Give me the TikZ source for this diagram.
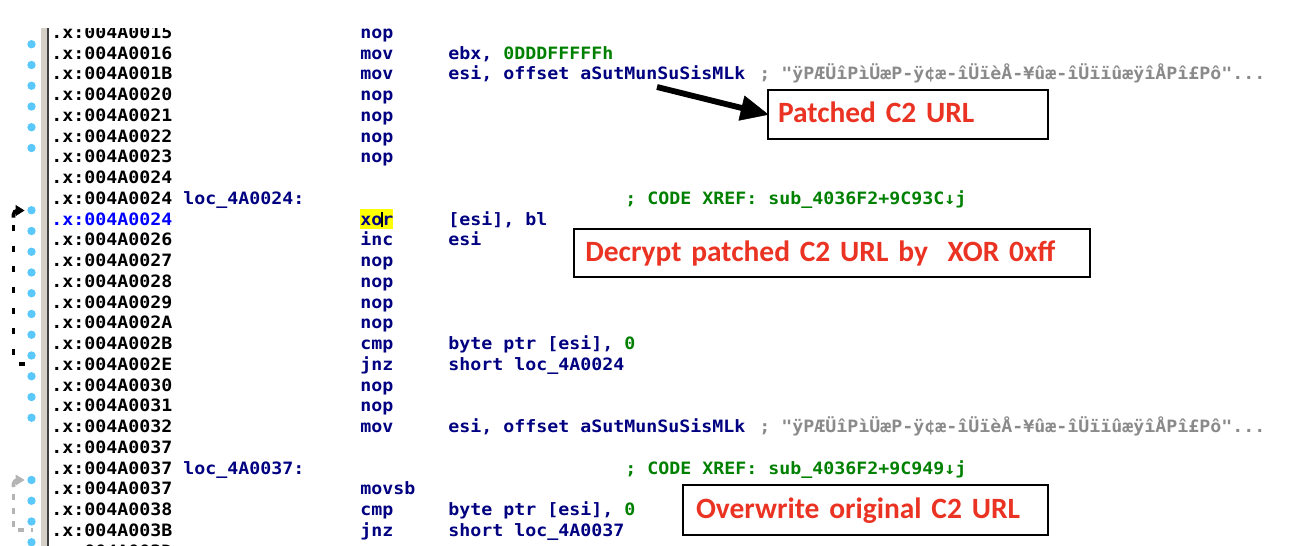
\documentclass[tikz,border=0pt]{standalone}
\usepackage{fontspec}
\usepackage{tikz}
\newfontfamily\idafont[FakeStretch=1.075]{DejaVu Sans Mono}
\newfontfamily\notefont{Carlito}

\begin{document}
\begin{tikzpicture}[x=0.75pt,y=0.75pt,yscale=-1,xscale=1,
  code/.style={anchor=base west, inner sep=0pt, font=\idafont\bfseries\fontsize{12.75}{13}\selectfont},
  addr/.style={code, color={rgb, 255:red, 0; green, 0; blue, 0 }},
  curaddr/.style={code, color={rgb, 255:red, 0; green, 0; blue, 255 }},
  mnem/.style={code, color={rgb, 255:red, 0; green, 0; blue, 128 }},
  xref/.style={code, color={rgb, 255:red, 0; green, 128; blue, 0 }},
  strcmt/.style={code, color={rgb, 255:red, 138; green, 138; blue, 138 }},
  insdot/.style={fill={rgb, 255:red, 90; green, 200; blue, 250 }},
  note/.style={draw={rgb, 255:red, 0; green, 0; blue, 0 }, line width=1.65pt, outer sep=0pt, anchor=north west, align=left, text height=15pt, text depth=3pt, font=\notefont\bfseries\fontsize{22.1}{24}\selectfont, text={rgb, 255:red, 234; green, 51; blue, 35 }},
  loopline/.style={line width=2.7pt}
]
\useasboundingbox (0,0) rectangle (1296,546);

\begin{scope}
\clip (0,28) rectangle (1296,546);
%Shape: Rectangle [id:margin]
\fill [color={rgb, 255:red, 212; green, 208; blue, 200 }] (41,28) rectangle (46.7,546);
\fill [color={rgb, 255:red, 64; green, 64; blue, 64 }] (46.7,28) rectangle (49.3,546);

%Shape: Circles [id:dots]
\fill [insdot] (31.5,23.5) circle (4.2);
\fill [insdot] (31.5,44.25) circle (4.2);
\fill [insdot] (31.5,65) circle (4.2);
\fill [insdot] (31.5,85.75) circle (4.2);
\fill [insdot] (31.5,106.5) circle (4.2);
\fill [insdot] (31.5,127.25) circle (4.2);
\fill [insdot] (31.5,148) circle (4.2);
\fill [insdot] (31.5,210.25) circle (4.2);
\fill [insdot] (31.5,231) circle (4.2);
\fill [insdot] (31.5,251.75) circle (4.2);
\fill [insdot] (31.5,272.5) circle (4.2);
\fill [insdot] (31.5,293.25) circle (4.2);
\fill [insdot] (31.5,314) circle (4.2);
\fill [insdot] (31.5,334.75) circle (4.2);
\fill [insdot] (31.5,355.5) circle (4.2);
\fill [insdot] (31.5,376.25) circle (4.2);
\fill [insdot] (31.5,397) circle (4.2);
\fill [insdot] (31.5,417.75) circle (4.2);
\fill [insdot] (31.5,480) circle (4.2);
\fill [insdot] (31.5,500.75) circle (4.2);
\fill [insdot] (31.5,521.5) circle (4.2);
\fill [insdot] (31.5,542.25) circle (4.2);

%Shape: Rectangle [id:xorhighlight]
\fill [color={rgb, 255:red, 255; green, 255; blue, 0 }] (360,208.5) rectangle (393,229);

% Text Node
\draw (51,38.3) node (a0) [addr] {.x:004A0015};
\draw (360,38.3) node (m0) [mnem] {nop};
% Text Node
\draw (51,59.05) node (a1) [addr] {.x:004A0016};
\draw (360,59.05) node (m1) [mnem] {mov};
\draw (448,59.05) node (o1) [mnem] {ebx, \textcolor[RGB]{0,128,0}{0DDDFFFFFh}};
% Text Node
\draw (51,79.8) node (a2) [addr] {.x:004A001B};
\draw (360,79.8) node (m2) [mnem] {mov};
\draw (448,79.8) node (o2) [mnem] {esi, offset aSutMunSuSisMLk};
\draw (759,79.8) node (c2) [strcmt] {; "ÿPÆÜîPìÜæP-ÿ¢æ-îÜïèÅ-¥ûæ-îÜïïûæÿîÅPî£Pô"...};
% Text Node
\draw (51,100.55) node (a3) [addr] {.x:004A0020};
\draw (360,100.55) node (m3) [mnem] {nop};
% Text Node
\draw (51,121.3) node (a4) [addr] {.x:004A0021};
\draw (360,121.3) node (m4) [mnem] {nop};
% Text Node
\draw (51,142.05) node (a5) [addr] {.x:004A0022};
\draw (360,142.05) node (m5) [mnem] {nop};
% Text Node
\draw (51,162.8) node (a6) [addr] {.x:004A0023};
\draw (360,162.8) node (m6) [mnem] {nop};
% Text Node
\draw (51,183.55) node (a7) [addr] {.x:004A0024};
% Text Node
\draw (51,204.3) node (a8) [addr] {.x:004A0024};
\draw (183,204.3) node (l8) [mnem] {loc\_4A0024:};
\draw (625,204.3) node (x8) [xref] {; CODE XREF: sub\_4036F2+9C93C↓j};
% Text Node
\draw (51,225.05) node (a9) [curaddr] {.x:004A0024};
\draw (360,225.05) node (m9) [mnem] {xor};
\draw (448,225.05) node (o9) [mnem] {[esi], bl};
% Text Node
\draw (51,245.8) node (a10) [addr] {.x:004A0026};
\draw (360,245.8) node (m10) [mnem] {inc};
\draw (448,245.8) node (o10) [mnem] {esi};
% Text Node
\draw (51,266.55) node (a11) [addr] {.x:004A0027};
\draw (360,266.55) node (m11) [mnem] {nop};
% Text Node
\draw (51,287.3) node (a12) [addr] {.x:004A0028};
\draw (360,287.3) node (m12) [mnem] {nop};
% Text Node
\draw (51,308.05) node (a13) [addr] {.x:004A0029};
\draw (360,308.05) node (m13) [mnem] {nop};
% Text Node
\draw (51,328.8) node (a14) [addr] {.x:004A002A};
\draw (360,328.8) node (m14) [mnem] {nop};
% Text Node
\draw (51,349.55) node (a15) [addr] {.x:004A002B};
\draw (360,349.55) node (m15) [mnem] {cmp};
\draw (448,349.55) node (o15) [mnem] {byte ptr [esi], \textcolor[RGB]{0,128,0}{0}};
% Text Node
\draw (51,370.3) node (a16) [addr] {.x:004A002E};
\draw (360,370.3) node (m16) [mnem] {jnz};
\draw (448,370.3) node (o16) [mnem] {short loc\_4A0024};
% Text Node
\draw (51,391.05) node (a17) [addr] {.x:004A0030};
\draw (360,391.05) node (m17) [mnem] {nop};
% Text Node
\draw (51,411.8) node (a18) [addr] {.x:004A0031};
\draw (360,411.8) node (m18) [mnem] {nop};
% Text Node
\draw (51,432.55) node (a19) [addr] {.x:004A0032};
\draw (360,432.55) node (m19) [mnem] {mov};
\draw (448,432.55) node (o19) [mnem] {esi, offset aSutMunSuSisMLk};
\draw (759,432.55) node (c19) [strcmt] {; "ÿPÆÜîPìÜæP-ÿ¢æ-îÜïèÅ-¥ûæ-îÜïïûæÿîÅPî£Pô"...};
% Text Node
\draw (51,453.3) node (a20) [addr] {.x:004A0037};
% Text Node
\draw (51,474.05) node (a21) [addr] {.x:004A0037};
\draw (183,474.05) node (l21) [mnem] {loc\_4A0037:};
\draw (625,474.05) node (x21) [xref] {; CODE XREF: sub\_4036F2+9C949↓j};
% Text Node
\draw (51,494.8) node (a22) [addr] {.x:004A0037};
\draw (360,494.8) node (m22) [mnem] {movsb};
% Text Node
\draw (51,515.55) node (a23) [addr] {.x:004A0038};
\draw (360,515.55) node (m23) [mnem] {cmp};
\draw (448,515.55) node (o23) [mnem] {byte ptr [esi], \textcolor[RGB]{0,128,0}{0}};
% Text Node
\draw (51,536.3) node (a24) [addr] {.x:004A003B};
\draw (360,536.3) node (m24) [mnem] {jnz};
\draw (448,536.3) node (o24) [mnem] {short loc\_4A0037};
% Text Node
\draw (51,557.05) node (a25) [addr] {.x:004A003D};

%Straight Lines [id:cursor]
\draw [line width=1.5pt] (382,211.5) -- (382,227);

%Straight Lines [id:loopA]
\coordinate (loopAtip) at (24,210.5);
\coordinate (loopAtop) at (13.5,217.5);
\coordinate (loopAend) at (33,364);
\draw [loopline, rounded corners=3, shorten <=4pt] (loopAtip) -| (loopAtop);
\draw [loopline, dash pattern=on 4.5pt off 11pt, dash phase=9.9pt] (loopAtop) |- (loopAend);
\draw [shift={(loopAtip)}, rotate=180, fill=black] (8,-5) -- (0,0) -- (8,5) -- cycle;
%Straight Lines [id:loopB]
\coordinate (loopBtip) at (24,480);
\coordinate (loopBtop) at (13.5,487);
\coordinate (loopBend) at (33,530);
\draw [loopline, color={rgb, 255:red, 180; green, 180; blue, 180 }, rounded corners=3, shorten <=4pt] (loopBtip) -| (loopBtop);
\draw [loopline, color={rgb, 255:red, 180; green, 180; blue, 180 }, dash pattern=on 4.5pt off 5.5pt, dash phase=4.5pt] (loopBtop) |- (loopBend);
\draw [shift={(loopBtip)}, rotate=180, color={rgb, 255:red, 180; green, 180; blue, 180 }, fill={rgb, 255:red, 180; green, 180; blue, 180 }] (8,-5) -- (0,0) -- (8,5) -- cycle;
\end{scope}

% Text Node
\draw (768,90) node (patch) [note, inner xsep=7.5pt, text width=195pt, minimum height=36.75pt] {Patched C2 URL};
% Text Node
\draw (574,229) node (decrypt) [note, inner xsep=8.5pt, text width=370pt, minimum height=36pt] {Decrypt patched C2 URL by \ XOR 0xff};
% Text Node
\draw (683,485) node (overwrite) [note, inner xsep=9.8pt, text width=254pt, minimum height=37.5pt] {Overwrite original C2 URL};

%Straight Lines [id:urlarrow]
\coordinate (urltail) at (657,87);
\draw [line width=4.4pt, shorten >=15pt] (urltail) -- (patch.west);
\draw [shift={(patch.west)}, rotate=193.5, fill=black] (27,-12.5) -- (0,0) -- (27,12.5) -- cycle;

\end{tikzpicture}
\end{document}
